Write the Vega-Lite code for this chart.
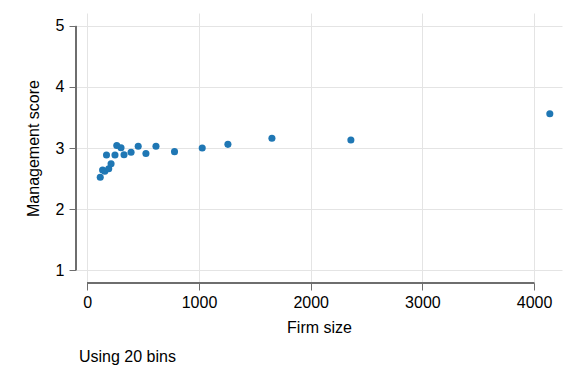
{
  "$schema": "https://vega.github.io/schema/vega-lite/v6.json",
  "width": 486,
  "height": 270,
  "autosize": "none",
  "padding": {"left": 76, "top": 13, "right": 14, "bottom": 101},
  "background": "white",
  "config": {
    "view": {"stroke": null},
    "font": "Liberation Sans",
    "axis": {
      "labelFont": "Liberation Sans",
      "titleFont": "Liberation Sans",
      "labelFontSize": 16,
      "titleFontSize": 16,
      "titleFontWeight": "normal",
      "labelColor": "#000000",
      "titleColor": "#000000",
      "domain": false,
      "tickColor": "#6e6e6e",
      "tickSize": 7,
      "gridColor": "#e4e4e4",
      "gridWidth": 1
    }
  },
  "title": {
    "text": "Using 20 bins",
    "orient": "bottom",
    "anchor": "start",
    "frame": "group",
    "font": "Liberation Sans",
    "fontSize": 16,
    "fontWeight": "normal",
    "color": "#000000",
    "offset": 14,
    "dx": 3
  },
  "data": {
    "values": [
      {"size": 116, "score": 2.52},
      {"size": 137, "score": 2.64},
      {"size": 157, "score": 2.62},
      {"size": 172, "score": 2.885},
      {"size": 192, "score": 2.66},
      {"size": 213, "score": 2.74},
      {"size": 248, "score": 2.885},
      {"size": 264, "score": 3.04},
      {"size": 302, "score": 3.005},
      {"size": 329, "score": 2.89},
      {"size": 392, "score": 2.93},
      {"size": 456, "score": 3.03},
      {"size": 525, "score": 2.91},
      {"size": 615, "score": 3.03},
      {"size": 781, "score": 2.94},
      {"size": 1029, "score": 3.0},
      {"size": 1259, "score": 3.06},
      {"size": 1653, "score": 3.16},
      {"size": 2360, "score": 3.13},
      {"size": 4141, "score": 3.56}
    ]
  },
  "layer": [
    {
      "mark": {"type": "point", "filled": true, "size": 50, "opacity": 1, "color": "#1f77b4"},
      "encoding": {
        "x": {
          "field": "size", "type": "quantitative",
          "scale": {"domain": [-101, 4250], "nice": false, "zero": false},
          "axis": {"values": [0, 1000, 2000, 3000, 4000], "title": "Firm size", "labelPadding": 4, "titlePadding": 9, "format": "d"}
        },
        "y": {
          "field": "score", "type": "quantitative",
          "scale": {"domain": [0.787, 5.213], "nice": false, "zero": false},
          "axis": {"values": [1, 2, 3, 4, 5], "title": "Management score", "labelPadding": 5, "titlePadding": 14, "format": "d"}
        }
      }
    },
    {
      "mark": {"type": "rule", "color": "#6e6e6e", "strokeWidth": 1, "clip": false},
      "encoding": {
        "x": {"datum": 0, "type": "quantitative"},
        "x2": {"datum": 4000},
        "y": {"datum": 0.787, "type": "quantitative"}
      }
    },
    {
      "mark": {"type": "rule", "color": "#6e6e6e", "strokeWidth": 1, "clip": false},
      "encoding": {
        "y": {"datum": 1, "type": "quantitative"},
        "y2": {"datum": 5},
        "x": {"datum": -101, "type": "quantitative"}
      }
    }
  ]
}
